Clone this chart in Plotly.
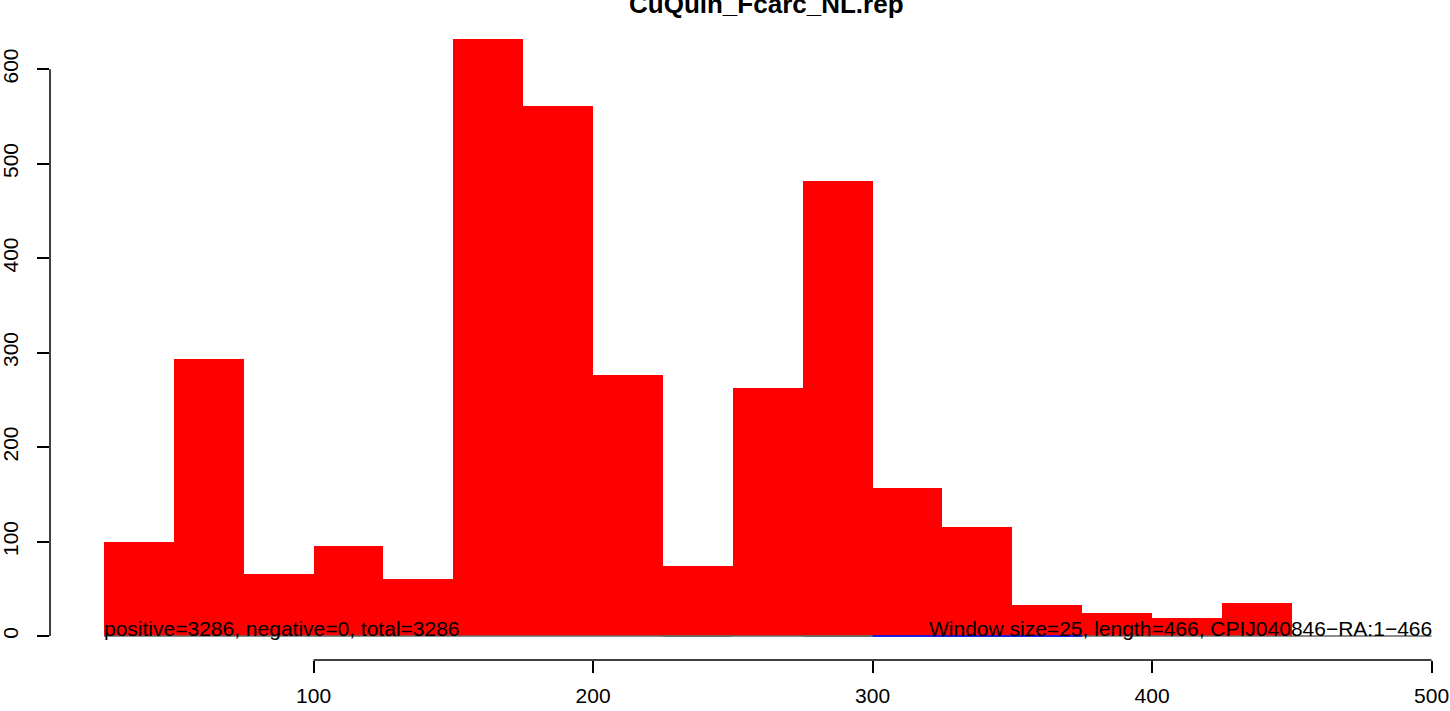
import plotly.graph_objects as go

# ---- data ----
bin_starts = [25, 50, 75, 100, 125, 150, 175, 200, 225, 250, 275, 300, 325, 350, 375, 400, 425]
bin_width = 25
counts = [100, 293, 66, 95, 60, 632, 561, 276, 74, 263, 482, 157, 115, 33, 24, 19, 35]
x_ticks = [100, 200, 300, 400, 500]
y_ticks = [0, 100, 200, 300, 400, 500, 600]
title_text = "CuQuin_Fcarc_NL.rep"
left_note = "positive=3286, negative=0, total=3286"
right_note = "Window size=25, length=466, CPIJ040846\u2212RA:1\u2212466"
baseline_x = [25, 500]
gray_segments = [(225, 250), (275, 300)]
blue_segments = [(300, 375)]

FONT = "Liberation Sans, Arial, sans-serif"

centers = [s + bin_width / 2 for s in bin_starts]

fig = go.Figure()
# baseline line underneath bars
fig.add_trace(go.Scatter(x=baseline_x, y=[0, 0], mode="lines",
                         line=dict(color="#666666", width=1.5), hoverinfo="skip", showlegend=False))
fig.add_trace(go.Bar(x=centers, y=counts, width=[bin_width] * len(counts),
                     marker=dict(color="#FF0000", line=dict(width=0)), showlegend=False))
for a, b in gray_segments:
    fig.add_trace(go.Scatter(x=[a, b], y=[0, 0], mode="lines",
                             line=dict(color="#666666", width=1.5), hoverinfo="skip", showlegend=False))
for a, b in blue_segments:
    fig.add_trace(go.Scatter(x=[a, b], y=[0, 0], mode="lines",
                             line=dict(color="#0000FF", width=1.5), hoverinfo="skip", showlegend=False))

# axis lines spanning only tick range (R style)
fig.add_shape(type="line", xref="paper", yref="y", x0=0, x1=0, y0=y_ticks[0], y1=y_ticks[-1],
              line=dict(color="black", width=1.5))
fig.add_shape(type="line", xref="x", yref="paper", x0=x_ticks[0], x1=x_ticks[-1], y0=0, y1=0,
              line=dict(color="black", width=1.5))

fig.add_annotation(text="<b>" + title_text + "</b>", xref="paper", yref="paper",
                   x=0.512, y=0.9904, xanchor="center", yanchor="bottom", showarrow=False,
                   font=dict(family=FONT, size=26, color="black"))
fig.add_annotation(text=left_note, xref="x", yref="y", x=25, y=0, xanchor="left", yanchor="bottom",
                   showarrow=False, yshift=-6, xshift=-2, font=dict(family=FONT, size=21, color="black"))
fig.add_annotation(text=right_note, xref="x", yref="y", x=500.3, y=0, xanchor="right", yanchor="bottom",
                   showarrow=False, yshift=-6, xshift=2, font=dict(family=FONT, size=21, color="black"))

fig.update_layout(
    width=1450, height=711,
    margin=dict(l=50, r=0, t=15, b=51, pad=0, autoexpand=False),
    paper_bgcolor="white", plot_bgcolor="white",
    bargap=0, showlegend=False,
    font=dict(family=FONT, size=21, color="black"),
    xaxis=dict(range=[5.7, 506.6], tickvals=x_ticks, ticktext=[str(v) for v in x_ticks],
               ticks="outside", ticklen=12, tickwidth=1.5, tickcolor="black",
               showgrid=False, zeroline=False, showline=False, automargin=False,
               ticklabelstandoff=5,
               tickfont=dict(family=FONT, size=21, color="black")),
    yaxis=dict(range=[-25.3, 657.3], tickvals=y_ticks, ticktext=[str(v) for v in y_ticks],
               ticks="outside", ticklen=12, tickwidth=1.5, tickcolor="black", tickangle=-90,
               showgrid=False, zeroline=False, showline=False, automargin=False,
               ticklabelstandoff=11,
               tickfont=dict(family=FONT, size=21, color="black")),
)

fig.write_html("out.html", config={"displayModeBar": False},
               post_script="document.body.style.margin='0px';document.body.style.overflow='hidden';")
